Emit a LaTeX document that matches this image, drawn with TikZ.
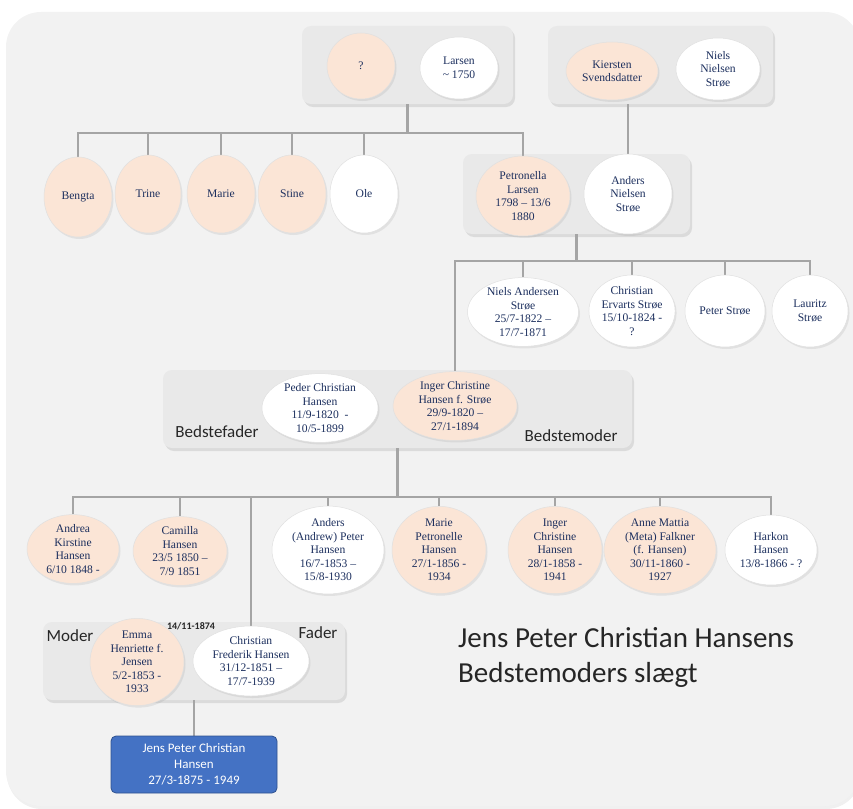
\documentclass[tikz,border=0pt]{standalone}
\usepackage{fontspec}
\setmainfont{Liberation Serif}
\newfontfamily\calibri{Carlito}
\usetikzlibrary{shapes.geometric,shadows}
\definecolor{bgc}{HTML}{F2F2F2}
\definecolor{grpc}{HTML}{E9E9E9}
\definecolor{peach}{HTML}{FBE5D6}
\definecolor{navy}{HTML}{1C2F5E}
\definecolor{linec}{HTML}{A5A5A5}
\definecolor{blueb}{HTML}{4472C4}
\definecolor{blued}{HTML}{2F528F}
\definecolor{lblc}{HTML}{262626}
\pgfdeclarelayer{bglayer}
\pgfdeclarelayer{midlayer}
\pgfsetlayers{bglayer,midlayer,main}
\begin{document}
\begin{tikzpicture}[x=1pt,y=-1pt,
  person/.style={ellipse, inner sep=0pt, align=center, text=navy,
    font=\fontsize{11.6}{13.5}\selectfont, draw=black!12, line width=0.5pt,
    drop shadow={shadow xshift=1.5pt, shadow yshift=-2pt, opacity=0.15}},
  fem/.style={person, fill=peach},
  mal/.style={person, fill=white},
  grp/.style={rectangle, fill=grpc, rounded corners=9pt, inner sep=0pt,
    drop shadow={shadow xshift=2pt, shadow yshift=-3pt, opacity=0.2}},
  conn/.style={draw=linec, line width=2.8pt},
  lbl/.style={font=\calibri\fontsize{17}{20}\selectfont, inner sep=0pt, text=lblc},
  me/.style={rectangle, rounded corners=5pt, fill=blueb, draw=blued, line width=0.8pt,
    text=white, align=center, font=\calibri\fontsize{13}{16}\selectfont, inner sep=0pt}
]
\useasboundingbox (0,0) rectangle (853,808);

\begin{pgfonlayer}{bglayer}
\path[fill=bgc, rounded corners=35pt, drop shadow={shadow xshift=1pt, shadow yshift=-3pt, opacity=0.12}] (6,12) rectangle (860,806);
% group boxes
\node[grp, minimum width=211pt, minimum height=78pt] (box1) at (407.5,65) {};
\node[grp, minimum width=225pt, minimum height=78pt] (box2) at (660.5,65) {};
\node[grp, minimum width=227pt, minimum height=80pt] (box3) at (576.5,194) {};
\node[grp, minimum width=469pt, minimum height=78pt] (box4) at (397.5,409) {};
\node[grp, minimum width=302pt, minimum height=78pt] (box5) at (194,661) {};
\end{pgfonlayer}

% persons
\node[fem, minimum width=68pt, minimum height=66pt] (q) at (361,66) {?};
\node[mal, minimum width=78pt, minimum height=62pt] (larsen) at (459,68) {Larsen\\\textasciitilde{} 1750};
\node[fem, minimum width=92pt, minimum height=58pt] (kiersten) at (612,71) {Kiersten\\Svendsdatter};
\node[mal, minimum width=84pt, minimum height=62pt] (nielsN) at (718,69) {Niels\\Nielsen\\Strøe};

\node[fem, minimum width=68pt, minimum height=80pt] (bengta) at (78,197) {Bengta};
\node[fem, minimum width=66pt, minimum height=78pt] (trine) at (148,194) {Trine};
\node[fem, minimum width=68pt, minimum height=78pt] (marie) at (221,194) {Marie};
\node[fem, minimum width=68pt, minimum height=78pt] (stine) at (292,194) {Stine};
\node[mal, minimum width=68pt, minimum height=78pt] (ole) at (364,194) {Ole};

\node[fem, minimum width=94pt, minimum height=80pt] (petronella) at (523,196) {Petronella\\Larsen\\1798 – 13/6\\1880};
\node[mal, minimum width=88pt, minimum height=80pt] (anders) at (628,194) {Anders\\Nielsen\\Strøe};

\node[mal, minimum width=111pt, minimum height=68pt] (nielsA) at (523,312) {Niels Andersen\\Strøe\\25/7-1822 –\\17/7-1871};
\node[mal, minimum width=86pt, minimum height=72pt] (christianE) at (632,311) {Christian\\Ervarts Strøe\\15/10-1824 -\\?};
\node[mal, minimum width=80pt, minimum height=72pt] (peter) at (725,311) {Peter Strøe};
\node[mal, minimum width=76pt, minimum height=72pt] (lauritz) at (810,311) {Lauritz\\Strøe};

\node[mal, minimum width=116pt, minimum height=64pt] (peder) at (320,408) {Peder Christian\\Hansen\\11/9-1820~~-\\10/5-1899};
\node[fem, minimum width=124pt, minimum height=62pt] (inger) at (455,406) {Inger Christine\\Hansen f. Strøe\\29/9-1820 –\\27/1-1894};
\node[lbl] (bedstefader) at (217,432) {Bedstefader};
\node[lbl] (bedstemoder) at (571,436) {Bedstemoder};

\node[fem, minimum width=92pt, minimum height=68pt] (andrea) at (73,549) {Andrea\\Kirstine\\Hansen\\6/10 1848 -};
\node[fem, minimum width=94pt, minimum height=68pt] (camilla) at (180,551) {Camilla\\Hansen\\23/5 1850 –\\7/9 1851};
\node[mal, minimum width=112pt, minimum height=70pt] (andersP) at (328,550) {Anders\\(Andrew) Peter\\Hansen\\16/7-1853 –\\15/8-1930};
\node[fem, minimum width=94pt, minimum height=70pt] (marieP) at (439,550) {Marie\\Petronelle\\Hansen\\27/1-1856 -\\1934};
\node[fem, minimum width=94pt, minimum height=70pt] (ingerC) at (555,550) {Inger\\Christine\\Hansen\\28/1-1858 -\\1941};
\node[fem, minimum width=112pt, minimum height=70pt] (anne) at (660,550) {Anne Mattia\\(Meta) Falkner\\(f. Hansen)\\30/11-1860 -\\1927};
\node[mal, minimum width=92pt, minimum height=70pt] (harkon) at (771,550) {Harkon\\Hansen\\13/8-1866 - ?};

\node[fem, minimum width=94pt, minimum height=68pt] (emma) at (137,662) {Emma\\Henriette f.\\Jensen\\5/2-1853 -\\1933};
\node[mal, minimum width=116pt, minimum height=70pt] (cf) at (251,661) {Christian\\Frederik Hansen\\31/12-1851 –\\17/7-1939};
\node[font=\calibri\bfseries\fontsize{10}{12}\selectfont, text=lblc, inner sep=0pt] (wed) at (191,626) {14/11-1874};
\node[lbl] (moder) at (70,636) {Moder};
\node[lbl] (fader) at (318,633) {Fader};

\node[me, minimum width=166pt, minimum height=57pt] (jens) at (194,764.5) {Jens Peter Christian\\Hansen\\27/3-1875 - 1949};

\node[anchor=north west, align=left, inner sep=0pt, text=lblc,
  font=\calibri\fontsize{29}{35}\selectfont] (title) at (458,627) {Jens Peter Christian Hansens\\Bedstemoders slægt};

% bus coordinates
\coordinate (bus1) at (407.5,133);
\coordinate (bus2) at (576.5,261);
\coordinate (bus3) at (397.5,497);

\begin{pgfonlayer}{midlayer}
\draw[conn] (box1.south) -- (bus1);
\foreach \c in {bengta,trine,marie,stine,ole,petronella}
  \draw[conn] (\c.north) |- (bus1);
\draw[conn] (anders.north) -- (anders.north |- box2.south);
\draw[conn] (box3.south) -- (bus2);
\foreach \c in {inger,nielsA,christianE,peter,lauritz}
  \draw[conn] (\c.north) |- (bus2);
\draw[conn] (box4.south) -- (bus3);
\foreach \c in {andrea,camilla,cf,andersP,marieP,ingerC,anne,harkon}
  \draw[conn] (\c.north) |- (bus3);
\draw[conn] (box5.south) -- (jens.north);
\end{pgfonlayer}
\end{tikzpicture}
\end{document}
